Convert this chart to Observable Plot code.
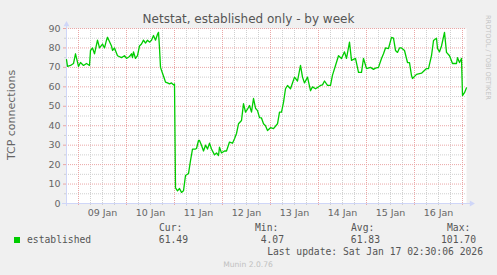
<!DOCTYPE html>
<html><head><meta charset="utf-8">
<script src="https://cdn.jsdelivr.net/npm/d3@7"></script>
<script src="https://cdn.jsdelivr.net/npm/@observablehq/plot@0.6"></script>
<style>
html,body{margin:0;padding:0;background:#F0F0F0;}
#wrap{position:relative;width:497px;height:275px;overflow:hidden;background:#F0F0F0;}
#wrap svg{position:absolute;left:0;top:0;}
</style></head><body><div id="wrap"></div>
<script>
const title = "Netstat, established only - by week";
const yLabel = "TCP connections";
const seriesName = "established";
const statLabels = ["Cur:", "Min:", "Avg:", "Max:"];
const statValues = ["61.49", "4.07", "61.83", "101.70"];
const lastUpdate = "Last update: Sat Jan 17 02:30:06 2026";
const credit = "Munin 2.0.76";
const sideText = "RRDTOOL / TOBI OETIKER";
const yTicks = [0, 10, 20, 30, 40, 50, 60, 70, 80, 90];
const yMinorTicks = [5, 15, 25, 35, 45, 55, 65, 75, 85];
const xTickLabels = ["09 Jan", "10 Jan", "11 Jan", "12 Jan", "13 Jan", "14 Jan", "15 Jan", "16 Jan"];
const startTime = Date.UTC(2026, 0, 8, 18, 0);
const endTime = Date.UTC(2026, 0, 17, 2, 0);
// hours after startTime
const hours = [0,0.5,2,3.5,4.5,6,7,8.5,10,11.5,12,13,14,15.5,16.5,18,19,20,20.5,22.5,23,24,25.5,27.5,29,30,31.5,32.5,33,33.5,34.5,35.5,36.5,37.5,38.5,39.5,40.5,41.5,42.5,43.5,44.5,45.5,46,46.5,47,48,49,49.5,50.5,51.5,52.5,53.5,54,54.5,55.5,56.5,57.5,58.5,59.5,61,62,63,64.5,65,66,66.5,67.5,68.5,69.5,70.5,71.5,72.5,74,75,76,76.5,77.5,79,80,81.5,83,84,85,86,87.5,88.5,89.5,90.5,91.5,92.5,93.5,94.5,95.5,96.5,97.5,98.5,99.5,100.5,102,103.5,105.5,106.5,107.5,108.5,109.5,110.5,112,113,114,115.5,117,118,119,120.5,122,123,124.5,126,127,128,129,130.5,132,133,134.5,136,137.5,139,140,141.5,142.5,144.5,146,147.5,148.5,150,152,153.5,154.5,156,157.5,158.5,159.5,161,162.5,163.5,164.5,165.5,166.5,167.5,169,170.5,171.5,172.5,173,175,177.5,180,181,182.5,183.5,185,185.5,186.5,187.5,189,190,191.5,193,195,195.5,196.5,197.5,198,199,200];
const values = [74,70.5,71,72,77,70.5,72.5,71,72,71,78.7,80,77,84,80,82,80,84,85.5,81,78.7,80,76,75,76,74.6,75.6,77,75,78,74.6,76,81,82,84,82.5,84,83,84,86.4,84,87,88,80,70,67,64,62.4,62,61.5,62,61,61.5,8,6.5,7.7,5.7,6.5,14.4,15.4,22,28,28,28.3,32.4,32.4,30,27,30,28,31,28,25,26,24.7,29,26,27,27,31.6,31,33.3,36,41,42.7,51.4,47,48.5,50.4,47,54,49,47.8,44.2,44,41,40,37.5,39,38.5,41,47,47,52,59,60.7,59,62,65,63,71,65,62,65,58,60,59,60,60.7,61,63,60.7,60.7,66,71,76,74.6,78,74.6,83,73.6,74.6,67.4,67.4,74.6,69.4,70,69,69.6,70,74.6,77,80,79.7,85.4,85,78.7,77.7,80,80,78.7,72.5,72.5,65.8,64.3,66.4,67,69.4,69.4,76,83.8,85,79.7,78,81,88,77.7,76,72,72,75,72.5,74.6,55.5,57,59.5];

const data = hours.map((h, i) => ({t: new Date(startTime + h * 3600e3), v: values[i]}));
const start = new Date(startTime), end = new Date(endTime);
const majorX = d3.utcDay.range(start, new Date(endTime + 1));
const minorX = d3.utcHour.every(6).range(new Date(startTime + 1), new Date(endTime + 1)).filter(d => d.getUTCHours() !== 0);
const labelTimes = xTickLabels.map((_, i) => new Date(Date.UTC(2026, 0, 9 + i, 12)));
const labelMap = new Map(labelTimes.map((d, i) => [+d, xTickLabels[i]]));

const GRID = "#cfcfcf", MGRID = "#eaa6a6", AXIS = "#CFD6F8", FONT = "#666666";

const plot = Plot.plot({
  width: 497, height: 275,
  marginLeft: 66, marginRight: 31, marginTop: 28, marginBottom: 72,
  style: {background: "transparent", fontFamily: "DejaVu Sans", overflow: "visible"},
  x: {type: "utc", domain: [start, end]},
  y: {domain: [0, 90]},
  marks: [
    Plot.frame({fill: "#FFFFFF", stroke: null}),
    Plot.ruleX(minorX, {stroke: GRID, strokeDasharray: "1,1"}),
    Plot.ruleY(yMinorTicks, {stroke: GRID, strokeDasharray: "1,1"}),
    Plot.ruleX(majorX, {stroke: MGRID, strokeDasharray: "1,1"}),
    Plot.ruleY(yTicks.slice(1), {stroke: MGRID, strokeDasharray: "1,1"}),
    Plot.axisY({ticks: yMinorTicks, tickSize: 2, tickFormat: () => "", stroke: GRID, label: null}),
    Plot.axisY({ticks: yTicks, tickSize: 3, tickFormat: () => "", stroke: MGRID, label: null}),
    Plot.axisX({ticks: minorX, tickSize: 2, tickFormat: () => "", stroke: GRID, label: null}),
    Plot.axisX({ticks: majorX, tickSize: 2, tickFormat: () => "", stroke: MGRID, label: null}),
    Plot.ruleY([0], {stroke: AXIS, insetLeft: -4, insetRight: -5}),
    Plot.ruleX([start], {stroke: AXIS, insetTop: -5, insetBottom: -3}),
    Plot.line(data, {x: "t", y: "v", stroke: "#00CC00", strokeWidth: 1.3}),
    Plot.dot([0], {x: () => end, y: () => 0, symbol: "triangle", r: 2.2, fill: AXIS, stroke: null, rotate: 90, dx: 5}),
    Plot.dot([0], {x: () => start, y: () => 90, symbol: "triangle", r: 2.2, fill: AXIS, stroke: null, dy: -4}),
    Plot.axisY({ticks: yTicks, tickSize: 0, tickPadding: 6, fontSize: 9.5, fill: FONT, label: null}),
    Plot.axisX({ticks: labelTimes, tickSize: 0, tickPadding: 6, fontSize: 9.5, fill: FONT, tickFormat: d => labelMap.get(+d), label: null})
  ]
});
document.getElementById("wrap").appendChild(plot);

const ov = d3.select("#wrap").append("svg").attr("width", 497).attr("height", 275).style("pointer-events", "none");
ov.append("text").attr("x", 248.5).attr("y", 23).attr("text-anchor", "middle")
  .attr("font-family", "DejaVu Sans").attr("font-size", 12).attr("fill", "#555").text(title);
ov.append("text").attr("transform", "translate(15,115) rotate(-90)").attr("text-anchor", "middle")
  .attr("font-family", "DejaVu Sans").attr("font-size", 11).attr("fill", FONT).text(yLabel);
ov.append("text").attr("transform", "translate(486,15) rotate(90)")
  .attr("font-family", "DejaVu Sans").attr("font-size", 6.6).attr("fill", "#c4c4c4").text(sideText);
ov.append("rect").attr("x", 14).attr("y", 237).attr("width", 6).attr("height", 6).attr("fill", "#00CC00");
const mono = {"font-family": "DejaVu Sans Mono", "font-size": 9.7, "fill": "#555"};
function tx(x, y, s, anchor) {
  const t = ov.append("text").attr("x", x).attr("y", y).attr("text-anchor", anchor || "start").text(s);
  for (const k in mono) t.attr(k, mono[k]);
  return t;
}
tx(27, 243, seriesName);
statLabels.forEach((s, i) => tx(159 + 96 * i, 231, s));
statValues.forEach((s, i) => tx(188 + 96 * i, 243, s, "end"));
tx(483, 255, lastUpdate, "end");
ov.append("text").attr("x", 248).attr("y", 267).attr("text-anchor", "middle")
  .attr("font-family", "DejaVu Sans").attr("font-size", 7.6).attr("fill", "#c0c0c0").text(credit);
</script></body></html>
